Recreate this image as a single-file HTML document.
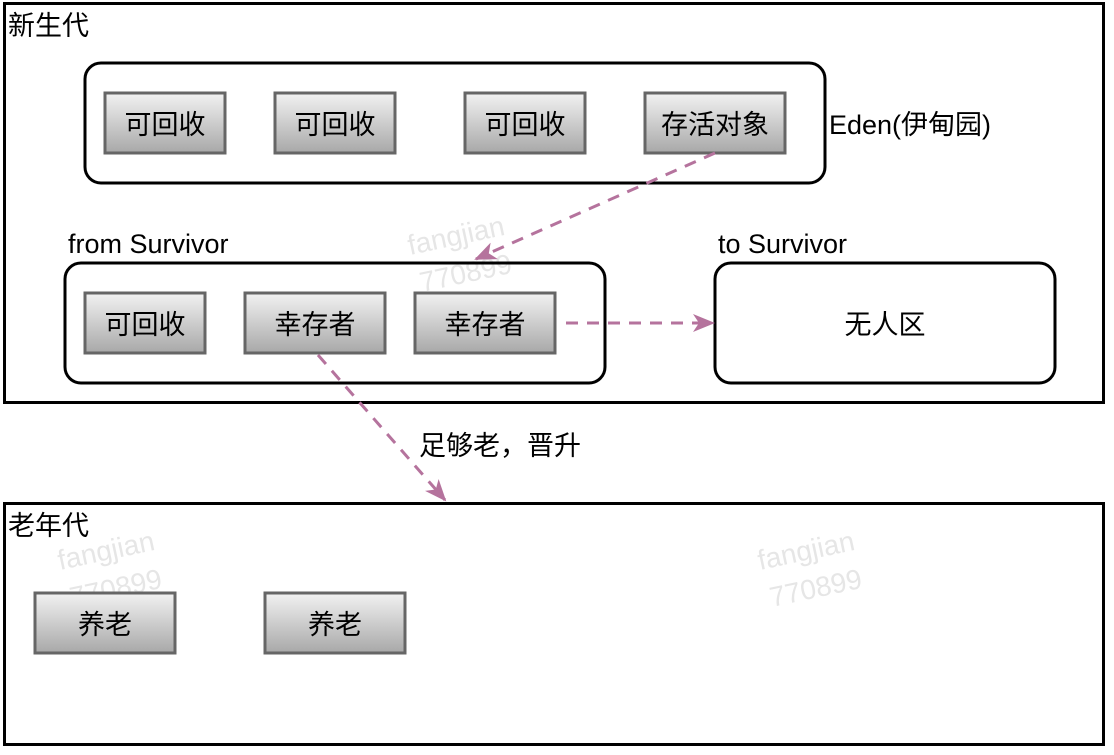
<!DOCTYPE html>
<html><head><meta charset="utf-8"><style>
body{margin:0;background:#fff}
svg text{font-family:"Liberation Sans","Noto Sans CJK SC",sans-serif}
</style></head><body>
<svg width="1114" height="750" viewBox="0 0 1114 750" xmlns="http://www.w3.org/2000/svg">
<defs>
<linearGradient id="g" x1="0" y1="0" x2="0" y2="1"><stop offset="0" stop-color="#f2f2f2"/><stop offset="1" stop-color="#a8a8a8"/></linearGradient>
<marker id="a" markerWidth="22" markerHeight="22" refX="20" refY="11" orient="auto" markerUnits="userSpaceOnUse"><path d="M0,2 L22,11 L0,20 L6,11 Z" fill="#b5739d"/></marker>
</defs>
<rect width="1114" height="750" fill="#fff"/>
<rect x="4.5" y="3.5" width="1099" height="399" fill="none" stroke="#000" stroke-width="3"/>
<rect x="4.5" y="503.5" width="1099" height="241" fill="none" stroke="#000" stroke-width="3"/>
<text x="8" y="35" font-size="27">新生代</text>
<text x="8" y="535" font-size="27">老年代</text>
<g fill="#e6e6e6" font-size="28">
<text x="410" y="255" transform="rotate(-12 410 255)">fangjian</text>
<text x="422" y="292" transform="rotate(-12 422 292)">770899</text>
<text x="60" y="570" transform="rotate(-12 60 570)">fangjian</text>
<text x="72" y="607" transform="rotate(-12 72 607)">770899</text>
<text x="760" y="570" transform="rotate(-12 760 570)">fangjian</text>
<text x="772" y="607" transform="rotate(-12 772 607)">770899</text>
</g>
<rect x="85" y="63" width="740" height="120" rx="16" fill="none" stroke="#000" stroke-width="3"/>
<rect x="65" y="263" width="540" height="120" rx="16" fill="none" stroke="#000" stroke-width="3"/>
<rect x="715" y="263" width="340" height="120" rx="16" fill="none" stroke="#000" stroke-width="3"/>
<text x="829" y="134" font-size="27">Eden(伊甸园)</text>
<text x="68" y="253" font-size="27">from Survivor</text>
<text x="718" y="253" font-size="27">to Survivor</text>
<text x="885" y="334" font-size="27" text-anchor="middle">无人区</text>
<g stroke="#666" stroke-width="3" fill="url(#g)">
<rect x="105" y="93" width="120" height="60"/>
<rect x="275" y="93" width="120" height="60"/>
<rect x="465" y="93" width="120" height="60"/>
<rect x="645" y="93" width="140" height="60"/>
<rect x="85" y="293" width="120" height="60"/>
<rect x="245" y="293" width="140" height="60"/>
<rect x="415" y="293" width="140" height="60"/>
<rect x="35" y="593" width="140" height="60"/>
<rect x="265" y="593" width="140" height="60"/>
</g>
<g font-size="27" text-anchor="middle" fill="#000">
<text x="165" y="134">可回收</text>
<text x="335" y="134">可回收</text>
<text x="525" y="134">可回收</text>
<text x="715" y="134">存活对象</text>
<text x="145" y="334">可回收</text>
<text x="315" y="334">幸存者</text>
<text x="485" y="334">幸存者</text>
<text x="105" y="634">养老</text>
<text x="335" y="634">养老</text>
</g>
<g stroke="#b5739d" stroke-width="3" stroke-dasharray="12,9" fill="none">
<line x1="715" y1="153" x2="476" y2="259" marker-end="url(#a)"/>
<line x1="566" y1="323" x2="713" y2="323" marker-end="url(#a)"/>
<line x1="318" y1="355" x2="445" y2="500" marker-end="url(#a)"/>
</g>
<text x="419" y="455" font-size="27">足够老，晋升</text>
</svg>
</body></html>
